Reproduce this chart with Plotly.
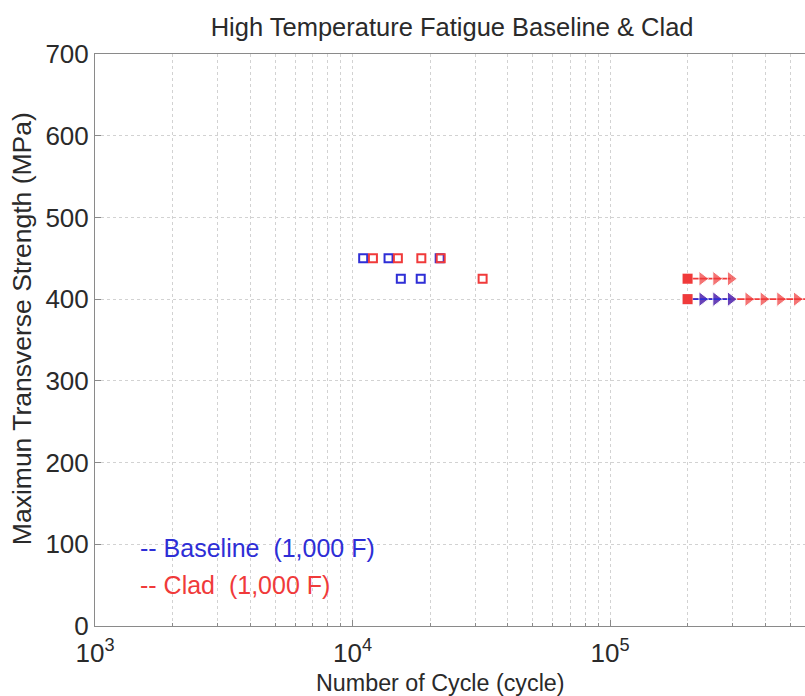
import plotly.graph_objects as go

# Failed specimens (cycles to failure, max transverse stress in MPa)
baseline_cycles = [11000, 13800, 21800, 15400, 18400]
baseline_stress = [450, 450, 450, 425, 425]
clad_cycles = [12000, 15000, 18500, 22000, 32000]
clad_stress = [450, 450, 450, 450, 425]

# Run-outs: specimen stopped at this cycle count, arrows show "still running"
runout_cycles = 200000
baseline_runout_stress = [400]
clad_runout_stress = [425, 400]
baseline_arrow_400 = [228000, 258000, 294000]
clad_arrow_425 = [228000, 258000, 294000]
clad_arrow_400 = [228000, 258000, 294000, 344000, 394000, 457000, 531000, 620000]

# axis ticks
x_tick_vals = [1e3, 1e4, 1e5]
x_tick_text = ["10<sup>3</sup>", "10<sup>4</sup>", "10<sup>5</sup>"]
y_tick_vals = [0, 100, 200, 300, 400, 500, 600, 700]

BLUE = "#2e2ed6"
RED = "#f03a3a"
FONT = "Liberation Sans, Arial, sans-serif"
TEXT = "#2a2a2a"
GRID = "#d2d2d2"
AXIS = "#8a8a8a"
TRI = 13
SQ = 10

fig = go.Figure()


def runout_arrow(xs, stress, color):
    n = len(xs)
    fig.add_trace(go.Scatter(
        x=[runout_cycles] + xs, y=[stress] * (n + 1),
        mode="lines+markers", line=dict(color=color, width=1.8),
        marker=dict(symbol=["square"] + ["triangle-right"] * n,
                    size=[SQ] + [TRI] * n, color=color),
        showlegend=False, hoverinfo="skip"))


# clad run-out at 400 MPa runs longest, drawn underneath
runout_arrow(clad_arrow_400, 400, RED)
runout_arrow(baseline_arrow_400, baseline_runout_stress[0], BLUE)
runout_arrow(clad_arrow_425, 425, RED)

# clad run-out start squares on top
fig.add_trace(go.Scatter(
    x=[runout_cycles] * len(clad_runout_stress), y=clad_runout_stress,
    mode="markers", marker=dict(symbol="square", size=SQ, color=RED),
    showlegend=False, hoverinfo="skip"))

# failures
fig.add_trace(go.Scatter(
    x=baseline_cycles, y=baseline_stress, mode="markers",
    marker=dict(symbol="square-open", size=8, color=BLUE, line=dict(width=2, color=BLUE)),
    name="Baseline (1,000 F)", showlegend=False))
fig.add_trace(go.Scatter(
    x=clad_cycles, y=clad_stress, mode="markers",
    marker=dict(symbol="square-open", size=8, color=RED, line=dict(width=2, color=RED)),
    name="Clad (1,000 F)", showlegend=False))

# text legend
fig.add_annotation(x=3.167, y=96, xref="x", yref="y", text="-- Baseline  (1,000 F)",
                   showarrow=False, xanchor="left", yanchor="middle",
                   font=dict(family=FONT, size=25, color=BLUE))
fig.add_annotation(x=3.167, y=50, xref="x", yref="y", text="-- Clad  (1,000 F)",
                   showarrow=False, xanchor="left", yanchor="middle",
                   font=dict(family=FONT, size=25, color=RED))

# axis titles
fig.add_annotation(x=0.486, y=-0.0997, xref="paper", yref="paper",
                   text="Number of Cycle (cycle)", showarrow=False,
                   xanchor="center", yanchor="middle",
                   font=dict(family=FONT, size=23.3, color=TEXT))
fig.add_annotation(x=-0.1028, y=0.519, xref="paper", yref="paper",
                   text="Maximun Transverse Strength (MPa)", showarrow=False,
                   textangle=-90, xanchor="center", yanchor="middle",
                   font=dict(family=FONT, size=26.5, color=TEXT))

minor_vals = [m * 10 ** d for d in (3, 4, 5) for m in range(2, 10)]

fig.update_layout(
    width=805, height=696,
    margin=dict(l=95, r=0, t=54, b=70),
    paper_bgcolor="white", plot_bgcolor="white",
    font=dict(family=FONT, color=TEXT),
    title=dict(text="High Temperature Fatigue Baseline & Clad",
               x=0.503, xref="paper", y=1 - 27 / 696, yref="container",
               xanchor="center", yanchor="middle",
               font=dict(family=FONT, size=25.5, color=TEXT)),
    xaxis=dict(
        type="log", range=[3, 5.757],
        tickmode="array", tickvals=x_tick_vals, ticktext=x_tick_text,
        tickfont=dict(size=26), ticklabelstandoff=4,
        ticks="inside", ticklen=6, tickcolor=AXIS,
        showline=True, linecolor=AXIS, linewidth=1, mirror=True,
        showgrid=True, gridcolor=GRID, griddash="dot", gridwidth=1,
        minor=dict(tickvals=minor_vals, showgrid=True, gridcolor=GRID,
                   griddash="dot", ticks="inside", ticklen=3, tickcolor=AXIS),
        zeroline=False,
    ),
    yaxis=dict(
        range=[0, 700], tickmode="array", tickvals=y_tick_vals,
        tickfont=dict(size=26),
        ticks="inside", ticklen=6, tickcolor=AXIS,
        showline=True, linecolor=AXIS, linewidth=1,
        showgrid=True, gridcolor=GRID, griddash="dot", gridwidth=1,
        zeroline=False,
    ),
)

fig.write_html("out.html")
